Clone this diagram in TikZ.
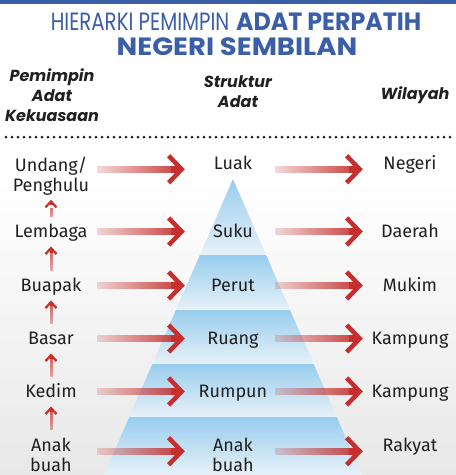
\documentclass[tikz,border=0pt]{standalone}
\usepackage{graphicx}
\usepackage{fontspec}
\setmainfont{Fira Sans}
\newfontfamily\judul{Poppins}
\usepackage{tikz}
\usetikzlibrary{arrows.meta, positioning, calc, fadings}

\definecolor{biruJudul}{HTML}{3B5EA8}
\definecolor{merahPanah}{HTML}{C62F2D}
\definecolor{biruPiramid}{HTML}{98CDEE}
\definecolor{biruPucat}{HTML}{E7F1F8}
\definecolor{kelabuLatar}{HTML}{E8E8E8}
\definecolor{teks}{HTML}{202020}

\tikzfading[name=pudar kiri, left color=transparent!85, right color=transparent!0]
\tikzfading[name=pudar bawah, top color=transparent!0, bottom color=transparent!80]

\begin{document}
\begin{tikzpicture}[x=1pt, y=-1pt,
    label/.style={font=\fontsize{18}{20}\selectfont, text=teks, inner sep=0pt, text height=12.5pt, text depth=1pt},
    label2/.style={font=\fontsize{18}{20}\selectfont, text=teks, inner sep=0pt, align=center, anchor=north},
    header/.style={font=\judul\bfseries\itshape\fontsize{16}{20}\selectfont, text=teks, inner sep=0pt, align=center, anchor=north},
    judulteks/.style={font=\judul\fontsize{25}{28}\selectfont, text=biruJudul, inner sep=0pt, anchor=base},
    kiri/.style={minimum width=92pt},
    tengah/.style={minimum width=96pt},
    kanan/.style={minimum width=94pt},
    panah/.style={merahPanah, line width=7pt, shorten <=74pt,
        -{Straight Barb[length=13pt, width=27pt, line width=4.5pt]},
        preaction={draw, merahPanah, line width=7pt, arrows=-, shorten <=0pt, shorten >=10pt, path fading=pudar kiri}},
    naik/.style={merahPanah, line width=3pt, shorten >=8pt, shorten <=26pt,
        -{Straight Barb[length=6pt, width=11pt, line width=2.2pt]},
        preaction={draw, merahPanah, line width=3pt, arrows=-, shorten <=8pt, shorten >=12pt, path fading=pudar bawah}}
]

% Latar
\fill[white] (0,0) rectangle (456,475);
\shade[top color=white, bottom color=kelabuLatar] (0,180) rectangle (456,475);
\fill[biruJudul] (0,0) rectangle (456,4);
\useasboundingbox (0,0) rectangle (456,475);

% Tajuk
\node[judulteks] (judul1) at (236,30)
    {\scalebox{0.79}[1]{HIERARKI PEMIMPIN} \scalebox{0.95}[1]{\textbf{ADAT PERPATIH}}};
\node[judulteks] (judul2) at (237,55) {\scalebox{1.1}[1]{\textbf{NEGERI SEMBILAN}}};

% Kepala lajur
\node[header] (hPemimpin) at (52,68) {Pemimpin\\Adat\\Kekuasaan};
\node[header] (hStruktur) at (238,75) {Struktur\\Adat};
\node[header] (hWilayah) at (415,86) {Wilayah};
\draw[line width=3pt, line cap=round, dash pattern=on 0pt off 6pt, teks] (6,137) -- (452,137);

% Piramid
\foreach \ya/\yb in {179/255, 255/310, 310/364, 364/417, 417/475}{
  \shade[top color=biruPiramid, bottom color=biruPucat]
    ({233-0.436*(\ya-179)},\ya) -- ({233+0.436*(\ya-179)},\ya) --
    ({233+0.436*(\yb-179)},\yb) -- ({233-0.436*(\yb-179)},\yb) -- cycle;
}

% Pemimpin adat
\node[label2, kiri] (undang) at (51,157) {Undang/\\Penghulu};
\node[label, kiri] (lembaga) at (51,231.5) {Lembaga};
\node[label, kiri] (buapak) at (51,285.5) {Buapak};
\node[label, kiri] (basar) at (51,338.5) {Basar};
\node[label, kiri] (kedim) at (51,391.5) {Kedim};
\node[label2, kiri] (anak) at (51,438) {Anak\\buah};

% Struktur adat
\node[label, tengah] (luak) at (233,163.5) {Luak};
\node[label, tengah] (suku) at (233,231.5) {Suku};
\node[label, tengah] (perut) at (233,285.5) {Perut};
\node[label, tengah] (ruang) at (233,338.5) {Ruang};
\node[label, tengah] (rumpun) at (233,391.5) {Rumpun};
\node[label2, tengah] (anakbuah) at (233,438) {Anak\\buah};

% Wilayah
\node[label, kanan] (negeri) at (410,163.5) {Negeri};
\node[label, kanan] (daerah) at (410,231.5) {Daerah};
\node[label, kanan] (mukim) at (410,285.5) {Mukim};
\node[label, kanan] (kampung1) at (410,338.5) {Kampung};
\node[label, kanan] (kampung2) at (410,391.5) {Kampung};
\node[label, kanan] (rakyat) at (410,445.5) {Rakyat};

% Panah pemimpin ke struktur
\draw[panah] (undang.east |- luak.base) -- (luak.base west);
\draw[panah] (lembaga) -- (suku);
\draw[panah] (buapak) -- (perut);
\draw[panah] (basar) -- (ruang);
\draw[panah] (kedim) -- (rumpun);
\draw[panah] (anak.east |- rakyat.base) -- (anakbuah.west |- rakyat.base);

% Panah struktur ke wilayah
\draw[panah] ([xshift=-6pt]luak.base east) -- (negeri.base west);
\draw[panah] ([xshift=-6pt]suku.east) -- (daerah);
\draw[panah] ([xshift=-6pt]perut.east) -- (mukim);
\draw[panah] ([xshift=-6pt]ruang.east) -- (kampung1);
\draw[panah] ([xshift=-6pt]rumpun.east) -- (kampung2);
\draw[panah] ([xshift=-6pt]anakbuah.east |- rakyat.base) -- (rakyat.base west);

% Panah naik
\draw[naik, shorten >=4pt, shorten <=20pt] (lembaga) -- (undang);
\draw[naik] (buapak) -- (lembaga);
\draw[naik] (basar) -- (buapak);
\draw[naik] (kedim) -- (basar);
\draw[naik] (anak) -- (kedim);

\end{tikzpicture}
\end{document}
